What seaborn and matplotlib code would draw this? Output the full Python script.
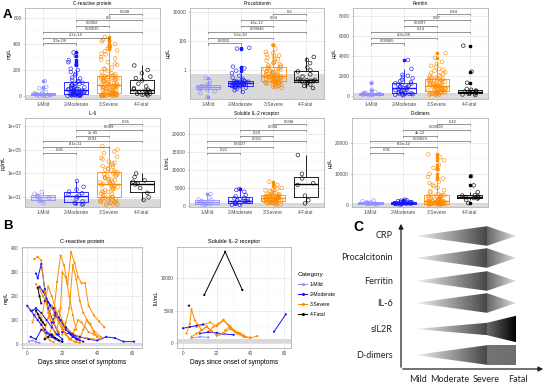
import numpy as np
import pandas as pd
import matplotlib
matplotlib.use("Agg")
import matplotlib.pyplot as plt
import matplotlib.transforms as mtransforms
from matplotlib.patches import Polygon
from matplotlib.lines import Line2D
from matplotlib.colors import LinearSegmentedColormap
import seaborn as sns

# ---------------- data ----------------
categories = ["1-Mild", "2-Moderate", "3-Severe", "4-Fatal"]
cat_colors = ["#8f8fff", "#1414ff", "#ff8c00", "#000000"]
comparisons = [(0, 1), (0, 2), (0, 3), (1, 2), (1, 3), (2, 3)]

# C-reactive protein (mg/L)
crp_mild = [1, 2, 3, 4, 6, 8, 10, 12, 15, 18, 22, 25, 30, 60, 70, 115]
crp_moderate = [1, 3, 4, 6, 8, 9, 11, 12, 14, 15, 17, 20, 24, 27, 31, 35, 38, 42, 45, 48,
                51, 55, 60, 65, 70, 76, 82, 88, 95, 102, 110, 125, 142, 160, 185, 210, 240, 275, 310, 335,
                2, 5, 7, 10, 13, 19, 22, 29, 33, 40, 53, 58, 68, 80, 92, 115, 135, 170, 200, 260]
crp_severe = [1, 2, 3, 5, 6, 8, 9, 11, 12, 14, 15, 16, 18, 19, 20,
              24, 28, 32, 36, 40, 45, 50, 54, 58, 62, 66, 70, 74, 78, 82,
              86, 90, 95, 100, 105, 110, 115, 120, 125, 130, 135, 140, 145, 150, 152,
              160, 175, 190, 205, 220, 240, 260, 280, 300, 325, 350, 375, 400, 430, 455,
              2, 4, 5, 7, 8, 10, 12, 14, 17, 19,
              26, 34, 42, 48, 56, 62, 68, 72, 76, 80,
              88, 98, 108, 118, 126, 134, 142, 146, 150, 151,
              165, 185, 210, 250, 290, 320, 345, 365, 385, 420]
crp_fatal = [5, 10, 14, 17, 19, 22, 28, 35, 42, 48, 52, 60, 75, 95, 120, 138, 150, 175, 200, 235]
crp_p = ["3.3e-08", "2.2e-14", "0.00035", "0.0002", "0.6", "0.038"]

# Procalcitonin (ug/L)
pct_mild = [0.014, 0.025, 0.035, 0.045, 0.05, 0.06, 0.065, 0.07, 0.08, 0.088, 0.095, 0.12, 0.18, 0.28]
pct_moderate = [0.03, 0.04, 0.05, 0.06, 0.065, 0.07, 0.072, 0.075, 0.078, 0.08, 0.085, 0.09, 0.095, 0.1,
                0.105, 0.11, 0.112, 0.115, 0.118, 0.12, 0.125, 0.13, 0.135, 0.14, 0.145, 0.15, 0.155,
                0.16, 0.17, 0.18, 0.2, 0.25, 0.3, 0.4, 0.6, 0.9, 1.3, 1.7, 30, 34]
pct_severe = [0.057, 0.07, 0.08, 0.09, 0.1, 0.11, 0.12, 0.13, 0.14, 0.145, 0.15, 0.16,
              0.17, 0.19, 0.21, 0.23, 0.25, 0.27, 0.29, 0.31, 0.33, 0.35, 0.37, 0.39,
              0.42, 0.48, 0.55, 0.62, 0.7, 0.8, 0.9, 1.0, 1.15, 1.3, 1.5, 1.7,
              2.0, 2.5, 3.0, 3.8, 4.5, 5.5, 7, 9, 12, 18, 30, 53,
              0.065, 0.085, 0.095, 0.115, 0.135, 0.155, 0.18, 0.2, 0.22, 0.26, 0.3, 0.34,
              0.45, 0.5, 0.6, 0.75, 0.85, 1.1, 1.4, 2.2, 3.3, 6, 10, 15]
pct_fatal = [0.057, 0.08, 0.1, 0.12, 0.14, 0.16, 0.17, 0.18, 0.19, 0.2, 0.21, 0.25, 0.35, 0.5,
             0.8, 0.95, 1.5, 3, 5, 8]
pct_p = ["0.0015", "5.2e-10", "0.00046", "1.6e-12", "0.04", "0.2"]

# Ferritin (ug/L)
fer_mild = [40, 70, 90, 110, 130, 150, 170, 190, 220, 260, 300, 380, 600, 1300]
fer_moderate = [50, 90, 120, 150, 180, 200, 215, 230, 240, 280, 330, 390, 450, 510, 570, 630, 690, 740,
                790, 850, 900, 950, 1000, 1060, 1120, 1190, 1250, 1350, 1480, 1600, 1750, 1900, 2000,
                2100, 2700, 3590]
fer_severe = [60, 100, 140, 180, 210, 240, 270, 300, 330, 360, 380, 400,
              440, 490, 540, 590, 640, 690, 740, 790, 840, 890, 930, 975,
              1020, 1080, 1140, 1200, 1260, 1320, 1380, 1440, 1500, 1560, 1610, 1650,
              1750, 1850, 1950, 2050, 2200, 2350, 2500, 2700, 2900, 3200, 3800, 4260,
              120, 200, 260, 320, 370, 420, 520, 620, 720, 820, 910, 1000,
              1110, 1230, 1350, 1470, 1590, 1700, 1800, 2000, 2300, 2600, 3000, 3400]
fer_fatal = [60, 120, 180, 230, 260, 300, 350, 390, 410, 450, 520, 600, 680, 1300, 2410, 5020]
fer_p = ["0.00085", "4.3e-08", "0.14", "0.0097", "0.87", "0.44"]

# IL-6 (pg/mL)
il6_mild = [3.2, 5, 6, 7, 9, 11, 13, 15, 20, 29]
il6_moderate = [2.5, 2.8, 3, 3.5, 4.5, 8, 11, 14, 18, 22, 30, 45, 76, 230]
il6_severe = [2.3, 2.6, 3, 3.5, 4, 4.5, 5, 6, 7, 8, 9, 10,
              12, 15, 20, 25, 32, 40, 50, 60, 75, 90, 105, 128,
              150, 180, 220, 270, 330, 400, 480, 580, 700, 850, 1000, 1200,
              1500, 2000, 2700, 3500, 5000, 7000, 10000, 15000, 25000, 50000, 100000, 200000,
              2.5, 3.2, 4.2, 5.5, 6.5, 8.5, 11, 18, 28, 45, 68, 98,
              140, 200, 300, 440, 640, 920, 1350, 2300, 4200, 8000, 20000, 70000]
il6_fatal = [6, 10, 24, 60, 120, 140, 200, 260, 500, 1000]
il6_p = ["0.25", "8.1e-11", "0.011", "2e-05", "0.039", "0.35"]

# Soluble IL-2 receptor (IU/mL)
sil_mild = [200, 300, 450, 500, 700, 900, 1000, 1300, 1500, 1700, 2300, 3270]
sil_moderate = [150, 300, 500, 650, 700, 900, 1100, 1250, 1300, 1350, 1500, 1700, 1900, 2050, 2200,
                2600, 3000, 3900, 4400, 4660]
sil_severe = [300, 500, 650, 780, 850, 920, 980, 1030, 1080, 1120,
              1200, 1300, 1400, 1500, 1600, 1700, 1800, 1900, 2000, 2070,
              2150, 2220, 2300, 2380, 2450, 2520, 2600, 2680, 2740, 2790,
              2950, 3100, 3300, 3500, 3800, 4100, 4500, 5000, 5800, 6700,
              400, 700, 900, 1000, 1150, 1350, 1550, 1750, 1950, 2100,
              2260, 2420, 2560, 2720, 2850, 3200, 3700, 4300, 4800, 5400]
sil_fatal = [670, 1500, 2800, 5800, 6300, 7600, 8900, 14160]
sil_p = ["0.22", "0.0037", "0.021", "0.29", "0.034", "0.048"]

# D-dimers (ug/L)
dd_mild = [150, 200, 250, 300, 380, 420, 460, 550, 700, 850, 1100, 1400]
dd_moderate = [100, 150, 200, 250, 300, 330, 360, 400, 430, 460, 490, 520, 550, 600, 650, 700, 750,
               800, 850, 900, 1000, 1150, 1300, 1450, 1630]
dd_severe = [80, 100, 130, 160, 190, 220, 240, 260, 280, 300, 310, 325,
             380, 450, 520, 600, 680, 760, 840, 920, 990, 1060, 1120, 1170,
             1300, 1450, 1600, 1750, 1900, 2050, 2200, 2400, 2600, 2750, 2900, 3030,
             3500, 4000, 4700, 5500, 6500, 7500, 8500, 10000, 11500, 13000, 14500, 16400,
             90, 140, 200, 250, 290, 350, 480, 640, 800, 960, 1090, 1250,
             1500, 1800, 2100, 2500, 2850, 3200, 4300, 6000, 7000, 9000, 12000, 15500]
dd_fatal = [500, 1500, 2000, 2150, 2300, 2450, 2500, 2700, 3000, 3100, 4100, 6290, 9320]
dd_p = ["0.91", "8.2e-12", "0.00029", "4e-12", "0.00028", "0.42"]

# Panel B - CRP trajectories (one inner list per patient)
crp_b_severe_days = [[4, 6, 8, 10, 12, 14, 16],
                     [15, 17, 19, 21, 23, 25, 27, 29, 31, 33, 35, 38, 41, 44],
                     [17, 19, 20, 22, 24, 26, 28],
                     [5, 7, 9, 11, 13, 15, 18],
                     [20, 22, 24, 26, 28, 30, 32, 35, 38, 42],
                     [8, 10, 12, 14, 16, 18, 20, 22, 25],
                     [10, 12, 14, 16, 18, 20, 22, 24, 27, 30],
                     [25, 27, 29, 31, 33, 35, 38, 40],
                     [3, 5, 7, 9, 11, 13, 15],
                     [28, 30, 32, 34, 36, 38, 40, 42],
                     [12, 14, 16, 18, 20, 23, 26, 30, 34, 38]]
crp_b_severe_vals = [[355, 365, 350, 220, 130, 80, 40],
                     [120, 260, 370, 330, 250, 385, 340, 280, 255, 255, 160, 120, 95, 70],
                     [60, 150, 300, 280, 200, 120, 60],
                     [250, 230, 200, 170, 120, 90, 50],
                     [40, 90, 150, 330, 270, 180, 130, 90, 55, 30],
                     [100, 180, 240, 200, 150, 100, 70, 40, 20],
                     [60, 110, 160, 120, 90, 60, 40, 20, 10, 5],
                     [20, 60, 100, 90, 70, 50, 40, 30],
                     [90, 140, 120, 60, 30, 15, 8],
                     [10, 25, 60, 100, 85, 50, 30, 20],
                     [30, 70, 110, 140, 95, 60, 45, 30, 25, 20]]
crp_b_moderate_days = [[5, 6, 8, 10, 12, 15, 18],
                       [0, 2, 4, 6, 8, 10, 13, 16, 20],
                       [7, 9, 11, 13, 16, 19, 22, 25, 28, 32],
                       [3, 5, 8, 11, 14, 17, 20],
                       [20, 25, 30, 35, 40, 45, 50, 55, 61],
                       [10, 12, 15, 18, 22, 26, 30],
                       [2, 5, 8, 11, 14, 17],
                       [14, 16, 19, 22, 26, 29]]
crp_b_moderate_vals = [[295, 275, 335, 230, 150, 90, 40],
                       [160, 140, 120, 100, 80, 60, 40, 20, 10],
                       [240, 220, 190, 160, 130, 100, 70, 40, 20, 10],
                       [140, 150, 130, 100, 70, 40, 20],
                       [50, 40, 30, 20, 15, 30, 25, 10, 10],
                       [180, 175, 150, 110, 60, 30, 15],
                       [30, 20, 60, 45, 30, 20],
                       [90, 120, 100, 70, 40, 20]]
crp_b_fatal_days = [[6, 7, 8], [5, 6, 7, 8, 9, 10], [10, 12, 14, 16, 18, 20]]
crp_b_fatal_vals = [[235, 200, 170], [140, 125, 110, 100, 90, 80], [20, 30, 40, 25, 15, 10]]
crp_b_mild_days = [[1, 3, 5, 7], [10, 13, 16, 19]]
crp_b_mild_vals = [[10, 15, 8, 5], [25, 30, 20, 10]]

# Panel B - sIL2R trajectories
sil_b_severe_days = [[2, 4, 5, 7, 9, 11, 14, 17],
                     [8, 12, 16, 20, 24, 28, 32],
                     [15, 18, 21, 24, 27, 30, 33, 36],
                     [20, 24, 28, 32, 36, 40, 44],
                     [5, 8, 11, 14, 17, 20],
                     [25, 28, 31, 34, 37, 40]]
sil_b_severe_vals = [[1500, 3000, 5200, 3500, 2800, 2000, 2500, 1800],
                     [2500, 2800, 3200, 2600, 3500, 2400, 1500],
                     [1800, 2500, 3000, 3600, 2800, 2000, 1600, 1200],
                     [1200, 1600, 2200, 1500, 1000, 800, 1100],
                     [1000, 1500, 2000, 2600, 1900, 1200],
                     [2000, 2600, 1800, 1500, 1000, 900]]
sil_b_moderate_days = [[54, 61], [0, 4, 8, 12], [10, 15, 20, 25, 30]]
sil_b_moderate_vals = [[1770, 4430], [2300, 2500, 2700, 2900], [1500, 1700, 1600, 1400, 1300]]
sil_b_fatal_days = [[12.6, 25, 35.2], [3.5]]
sil_b_fatal_vals = [[7400, 14000, 8150], [5750]]
sil_b_mild_days = [[5, 10, 15], [20, 25]]
sil_b_mild_vals = [[800, 1000, 900], [1200, 1400]]

# Panel C - schematic profiles
c_markers = ["CRP", "Procalcitonin", "Ferritin", "IL-6", "sIL2R", "D-dimers"]
c_severe_height = [1.0, 1.0, 1.0, 1.0, 0.63, 1.0]
c_fatal_height = [0.0, 0.0, 0.0, 0.0, 1.35, 1.0]
c_stages = ["Mild", "Moderate", "Severe", "Fatal"]

# ---------------- figure ----------------
plt.rcParams['font.family'] = ['Liberation Sans', 'DejaVu Sans']
W, H = 550, 390
fig = plt.figure(figsize=(5.5, 3.9), dpi=100)
pal = dict(zip(categories, cat_colors))
np.random.seed(3)


def px_axes(x0, y0, x1, y1):
    return fig.add_axes([x0 / W, 1 - y1 / H, (x1 - x0) / W, (y1 - y0) / H])


def style(ax, labelsize):
    for s in ax.spines.values():
        s.set_color('#b3b3b3')
        s.set_linewidth(0.6)
    ax.tick_params(which='major', length=1.5, width=0.4, color='#b3b3b3',
                   labelsize=labelsize, labelcolor='#4d4d4d', pad=1)
    ax.tick_params(which='minor', length=0)
    ax.grid(True, which='major', color='#e4e4e4', linewidth=0.5)
    ax.grid(True, which='minor', color='#f1f1f1', linewidth=0.3)
    ax.set_axisbelow(True)


panels = [
    ("C-reactive protein", "mg/L", [crp_mild, crp_moderate, crp_severe, crp_fatal], crp_p, False,
     (-23, 677), [0, 200, 400, 600], None, [100, 300, 500], 5, (25, 8, 160, 99)),
    ("Procalcitonin", "µg/L", [pct_mild, pct_moderate, pct_severe, pct_fatal], pct_p, True,
     (0.01, 19000), [1, 100, 10000], ["1", "100", "10000"], [0.1, 10, 1000], 0.5, (190, 8, 324, 99)),
    ("Ferritin", "µg/L", [fer_mild, fer_moderate, fer_severe, fer_fatal], fer_p, False,
     (-330, 8800), [0, 2000, 4000, 6000, 8000], None, [1000, 3000, 5000, 7000], 300, (353, 8, 488, 99)),
    ("IL-6", "pg/mL", [il6_mild, il6_moderate, il6_severe, il6_fatal], il6_p, True,
     (1.55, 4.4e7), [10, 1e3, 1e5, 1e7], ["1e+01", "1e+03", "1e+05", "1e+07"], [100, 1e4, 1e6], 7,
     (25, 118, 160, 207)),
    ("Soluble IL-2 receptor", "IU/mL", [sil_mild, sil_moderate, sil_severe, sil_fatal], sil_p, False,
     (-360, 24500), [0, 5000, 10000, 15000, 20000], None, [2500, 7500, 12500, 17500, 22500], 710,
     (189, 118, 324, 207)),
    ("D-dimers", "µg/L", [dd_mild, dd_moderate, dd_severe, dd_fatal], dd_p, False,
     (-750, 28240), [0, 10000, 20000], None, [5000, 15000, 25000], 500, (352, 118, 488, 207)),
]

for (title, ylab, groups, pvals, logy, ylim, ticks, ticklabels, minor, ref, rect) in panels:
    ax = px_axes(*rect)
    df = pd.DataFrame({
        "Category": np.concatenate([[c] * len(g) for c, g in zip(categories, groups)]),
        "value": np.concatenate([np.asarray(g, float) for g in groups]),
    })
    if logy:
        ax.set_yscale('log')
    ax.axhspan(ylim[0], ref, color='#d9d9d9', lw=0, zorder=0.5)
    sns.boxplot(data=df, x="Category", y="value", hue="Category", order=categories,
                hue_order=categories, palette=pal, fill=False, width=0.75, linewidth=0.6,
                fliersize=1.6, showcaps=False, legend=False, ax=ax,
                medianprops=dict(linewidth=1.0), flierprops=dict(marker='o'))
    for ln in ax.lines:
        if ln.get_marker() == 'o':
            ln.set_markerfacecolor(ln.get_markeredgecolor())
    n0 = len(ax.collections)
    sns.stripplot(data=df, x="Category", y="value", hue="Category", order=categories,
                  hue_order=categories, palette=pal, jitter=0.27, size=2.6, legend=False,
                  ax=ax, zorder=3)
    for coll in ax.collections[n0:]:
        fc = coll.get_facecolors()
        coll.set_edgecolors(fc)
        coll.set_facecolors('none')
        coll.set_linewidths(0.5)
        coll.set_alpha(0.85)
    ax.set_ylim(*ylim)
    ax.set_xlim(-0.55, 3.55)
    ax.set_yticks(ticks)
    if ticklabels is not None:
        ax.set_yticklabels(ticklabels)
    ax.set_yticks(minor, minor=True)
    ax.yaxis.set_minor_formatter(matplotlib.ticker.NullFormatter())
    style(ax, 3.5)
    ax.set_xlabel("")
    ax.set_ylabel(ylab, fontsize=3.6, labelpad=1.5)
    ax.set_title(title, fontsize=3.4, pad=2)
    trans = mtransforms.blended_transform_factory(ax.transData, ax.transAxes)
    for k, ((i, j), p) in enumerate(zip(comparisons, pvals)):
        yb = 0.61 + k * 0.0643
        ax.plot([i, i, j, j], [yb - 0.012, yb, yb, yb - 0.012], transform=trans,
                color='#444444', lw=0.4, clip_on=False, zorder=4)
        ax.text((i + j) / 2, yb + 0.006, p, transform=trans, ha='center', va='bottom',
                fontsize=3.0, color='#333333', zorder=4)


# ---------------- panel B ----------------
def build_long(sets):
    rows = []
    pid = 0
    for cat, dlist, vlist in sets:
        for d, v in zip(dlist, vlist):
            for dd, vv in zip(d, v):
                rows.append((pid, cat, dd, vv))
            pid += 1
    return pd.DataFrame(rows, columns=["patient", "Category", "day", "value"])


crp_long = build_long([
    ("3-Severe", crp_b_severe_days, crp_b_severe_vals),
    ("2-Moderate", crp_b_moderate_days, crp_b_moderate_vals),
    ("1-Mild", crp_b_mild_days, crp_b_mild_vals),
    ("4-Fatal", crp_b_fatal_days, crp_b_fatal_vals),
])
sil_long = build_long([
    ("3-Severe", sil_b_severe_days, sil_b_severe_vals),
    ("2-Moderate", sil_b_moderate_days, sil_b_moderate_vals),
    ("1-Mild", sil_b_mild_days, sil_b_mild_vals),
    ("4-Fatal", sil_b_fatal_days, sil_b_fatal_vals),
])

b_panels = [
    ("C-reactive protein", "mg/L", crp_long, (22, 247, 142, 348), (-3.0, 65.5), (-16.7, 406),
     [0, 100, 200, 300, 400], [50, 150, 250, 350], (-7, 6)),
    ("Soluble IL-2 receptor", "IU/mL", sil_long, (177, 247, 291, 348), (-3.6, 64.1), (-720, 14725),
     [0, 5000, 10000], [2500, 7500, 12500], (-150, 680)),
]
for (title, ylab, df, rect, xlim, ylim, yt, ymin_t, band) in b_panels:
    ax = px_axes(*rect)
    ax.axhspan(band[0], band[1], color='#d9d9d9', lw=0, zorder=0.5)
    sns.lineplot(data=df, x="day", y="value", hue="Category", units="patient", estimator=None,
                 palette=pal, hue_order=categories, linewidth=0.7, legend=False, ax=ax, sort=True)
    sns.scatterplot(data=df, x="day", y="value", hue="Category", palette=pal, hue_order=categories,
                    s=2.5, linewidth=0, legend=False, ax=ax, zorder=3)
    ax.set_xlim(*xlim)
    ax.set_ylim(*ylim)
    ax.set_xticks([0, 20, 40, 60])
    ax.set_xticks([10, 30, 50], minor=True)
    ax.set_yticks(yt)
    ax.set_yticks(ymin_t, minor=True)
    style(ax, 3.4)
    ax.set_xlabel("Days since onset of symptoms", fontsize=4.7, labelpad=1.5)
    ax.set_ylabel(ylab, fontsize=4.0, labelpad=1.5)
    ax.set_title(title, fontsize=4.1, pad=3)

handles = [Line2D([0], [0], color=c, lw=0.8, marker='o', markersize=1.2) for c in cat_colors]
leg = fig.legend(handles, categories, title="Category", loc="upper left",
                 bbox_to_anchor=(298 / W, 1 - 272 / H), frameon=False, fontsize=3.6,
                 title_fontsize=4.6, labelspacing=1.0, handlelength=1.8, handletextpad=0.6,
                 borderaxespad=0, borderpad=0)
leg._legend_box.align = "left"

# ---------------- panel C ----------------
axc = fig.add_axes([0, 0, 1, 1])
axc.set_xlim(0, W)
axc.set_ylim(H, 0)
axc.axis('off')
axc.patch.set_alpha(0)


def grad_poly(verts, x0, x1, c0, c1):
    poly = Polygon(verts, closed=True, facecolor='none', edgecolor='none')
    axc.add_patch(poly)
    cmap = LinearSegmentedColormap.from_list('g', [c0, c1])
    grad = np.linspace(0, 1, 256).reshape(1, -1)
    ys = [v[1] for v in verts]
    im = axc.imshow(grad, cmap=cmap, extent=(x0, x1, max(ys), min(ys)), aspect='auto',
                    interpolation='bilinear')
    im.set_clip_path(poly)


x_mild, x_sev, x_fat = 415, 487, 516
row_y = [236, 258, 281, 303, 329, 355]
unit = 9.8
for name, hs, hf, yc in zip(c_markers, c_severe_height, c_fatal_height, row_y):
    grad_poly([(x_mild, yc), (x_sev, yc - hs * unit), (x_sev, yc + hs * unit)],
              x_mild, x_sev, '#f4f4f4', '#474747')
    right = [(x_sev, yc - hs * unit), (x_fat, yc - hf * unit), (x_fat, yc + hf * unit),
             (x_sev, yc + hs * unit)]
    if hf == 0:
        grad_poly(right, x_sev, x_fat, '#666666', '#dedede')
    elif hf > hs:
        grad_poly(right, x_sev, x_fat, '#6a6a6a', '#000000')
    else:
        grad_poly(right, x_sev, x_fat, '#747474', '#6e6e6e')
    axc.text(393, yc, name, ha='right', va='center', fontsize=6.5, family='Lato', color='#222222')

axc.annotate("", xy=(401, 221), xytext=(401, 370),
             arrowprops=dict(arrowstyle='-|>', color='#222222', lw=0.9, mutation_scale=7))
axc.annotate("", xy=(546, 369), xytext=(400, 369),
             arrowprops=dict(arrowstyle='-|>', color='#222222', lw=0.9, mutation_scale=7))
for name, xx in zip(c_stages, [418, 450, 486, 518]):
    axc.text(xx, 380, name, ha='center', va='center', fontsize=6.5, family='Lato', color='#222222')

# panel letters
fig.text(3 / W, 1 - 18 / H, "A", fontsize=9.5, fontweight='bold')
fig.text(3 / W, 1 - 229 / H, "B", fontsize=9.5, fontweight='bold')
fig.text(353 / W, 1 - 231 / H, "C", fontsize=10, fontweight='bold')

fig.savefig("out.png", dpi=100)
